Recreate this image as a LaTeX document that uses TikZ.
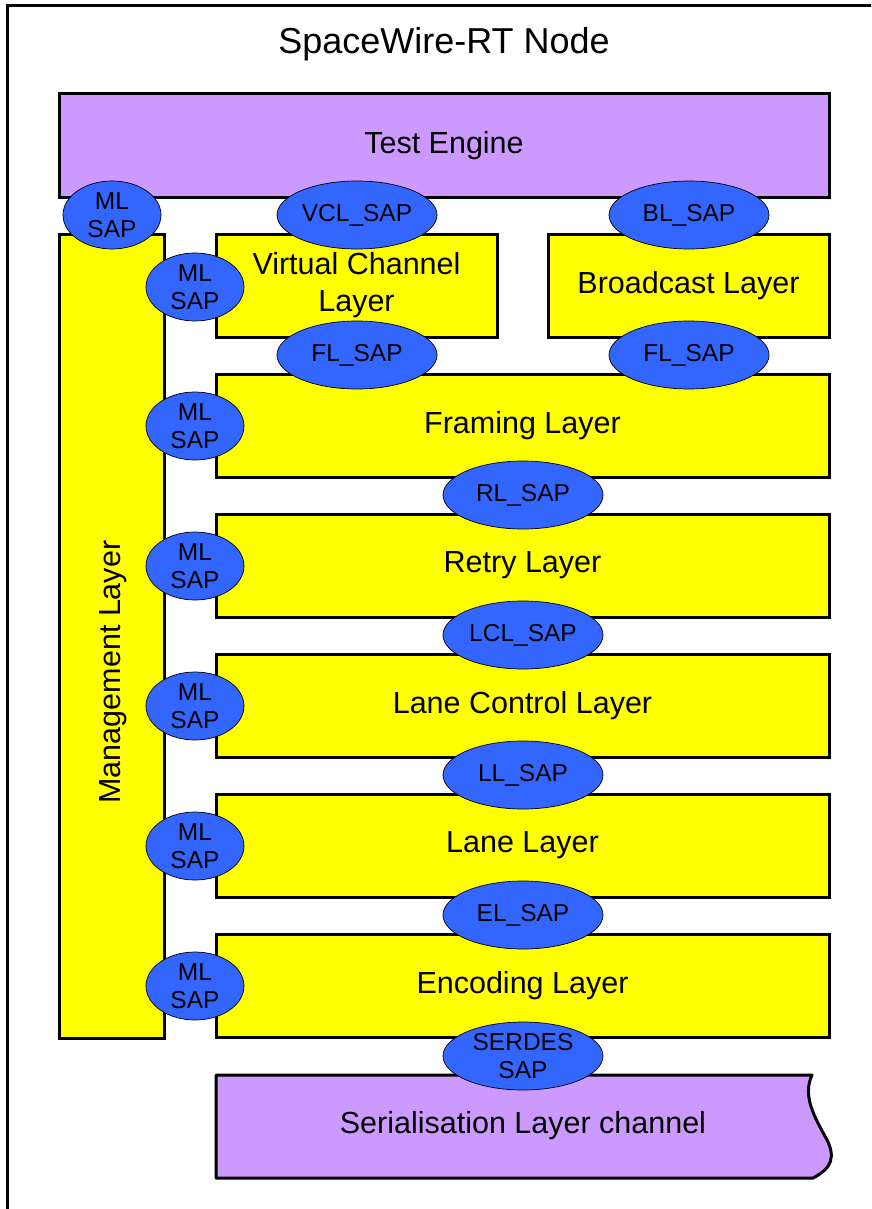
\documentclass[tikz,border=0pt]{standalone}
\usepackage{fontspec}
\setmainfont{Liberation Sans}
\usetikzlibrary{shapes.geometric}
\definecolor{lav}{HTML}{CC99FF}
\definecolor{yel}{HTML}{FFFF00}
\definecolor{sapblue}{HTML}{3366FF}
\tikzset{
  bigfont/.style={font=\fontsize{30.5}{37}\selectfont},
  layerbox/.style={draw=black, line width=3pt, fill=yel, inner sep=0pt, align=center, bigfont},
  purplebox/.style={layerbox, fill=lav},
  sap/.style={ellipse, draw=black, line width=0.7pt, fill=sapblue, inner sep=0pt, align=center, font=\fontsize{24.5}{28}\selectfont},
  mlsap/.style={sap, minimum width=98pt, minimum height=68pt},
  widesap/.style={sap, minimum width=160pt, minimum height=68pt},
}
\begin{document}
\begin{tikzpicture}[x=1pt,y=-1pt]
\useasboundingbox (0,0) rectangle (871,1209);
\clip (0,0) rectangle (871,1209);
\draw[line width=3pt] (7,1230) -- (7,6) -- (890,6);
\node[font=\fontsize{36}{42}\selectfont] (title) at (444,44) {SpaceWire-RT Node};
% boxes
\node[purplebox, minimum width=770pt, minimum height=103pt] (te) at (444,145.5) {Test Engine};
\node[layerbox, minimum width=105pt, minimum height=804pt] (ml) at (111.5,636) {};
\node[rotate=90, bigfont] (mltext) at (113,672) {Management Layer};
\node[layerbox, minimum width=281pt, minimum height=103pt] (vcl) at (356.5,285.5) {Virtual Channel\\Layer};
\node[layerbox, minimum width=281pt, minimum height=103pt] (bl) at (688.5,285.5) {Broadcast Layer};
\node[layerbox, minimum width=613pt, minimum height=103pt] (fl) at (522.5,425.5) {Framing Layer};
\node[layerbox, minimum width=613pt, minimum height=103pt] (rl) at (522.5,565.5) {Retry Layer};
\node[layerbox, minimum width=613pt, minimum height=103pt] (lcl) at (522.5,705.5) {Lane Control Layer};
\node[layerbox, minimum width=613pt, minimum height=103pt] (ll) at (522.5,845.5) {Lane Layer};
\node[layerbox, minimum width=613pt, minimum height=103pt] (el) at (522.5,985.5) {Encoding Layer};
% serialisation with wavy right edge
\draw[line width=3pt, fill=lav, line join=round] (216,1075) -- (812,1075)
  .. controls (802,1096) and (815,1118) .. (826,1138)
  .. controls (836,1157) and (832,1168) .. (813,1178) -- (216,1178) -- cycle;
\node[bigfont] (ser) at (523,1126) {Serialisation Layer channel};
% SAPs
\node[mlsap] (mlsap0) at (112,215) {ML\\SAP};
\node[widesap] (vclsap) at (357,215) {VCL\_SAP};
\node[widesap] (blsap) at (689,215) {BL\_SAP};
\node[widesap] (flsap1) at (357,355) {FL\_SAP};
\node[widesap] (flsap2) at (689,355) {FL\_SAP};
\node[widesap] (rlsap) at (523,495) {RL\_SAP};
\node[widesap] (lclsap) at (523,635) {LCL\_SAP};
\node[widesap] (llsap) at (523,775) {LL\_SAP};
\node[widesap] (elsap) at (523,915) {EL\_SAP};
\node[widesap] (serdes) at (523,1056) {SERDES\\SAP};
\foreach \y/\n in {287/1,426/2,566/3,706/4,846/5,986/6}
  \node[mlsap] (mlsap\n) at (195,\y) {ML\\SAP};
\end{tikzpicture}
\end{document}
